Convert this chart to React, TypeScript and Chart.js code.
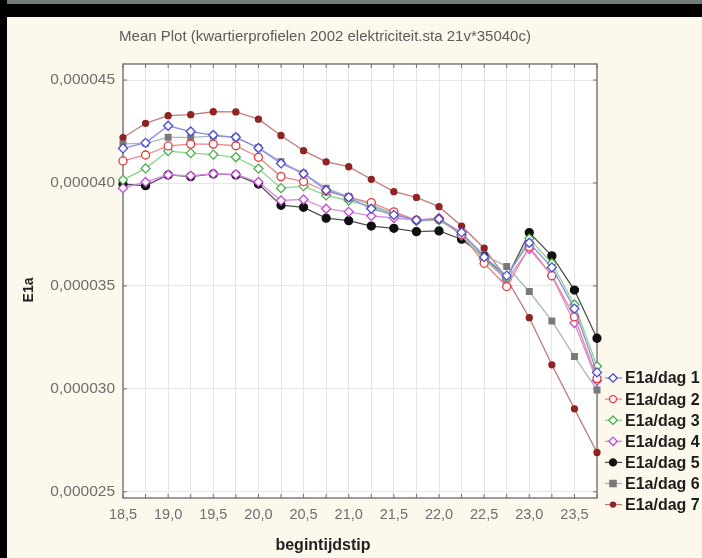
import React, { useEffect, useRef } from "react";
import { Chart, registerables } from "chart.js";

Chart.register(...registerables);

const X_VALUES = [18.5, 18.75, 19.0, 19.25, 19.5, 19.75, 20.0, 20.25, 20.5, 20.75, 21.0, 21.25, 21.5, 21.75, 22.0, 22.25, 22.5, 22.75, 23.0, 23.25, 23.5, 23.75];

// values in units of 1e-6
const DAG1 = [41.68, 41.95, 42.78, 42.5, 42.33, 42.22, 41.7, 40.95, 40.45, 39.65, 39.3, 38.75, 38.45, 38.2, 38.25, 37.6, 36.4, 35.5, 37.1, 35.9, 33.9, 30.8];
const DAG2 = [41.07, 41.36, 41.8, 41.89, 41.89, 41.81, 41.25, 40.31, 40.07, 39.6, 39.3, 39.05, 38.6, 38.2, 38.25, 37.5, 36.1, 34.97, 36.9, 35.5, 33.5, 30.5];
const DAG3 = [40.15, 40.71, 41.55, 41.45, 41.38, 41.25, 40.7, 39.75, 39.85, 39.4, 39.15, 38.85, 38.5, 38.15, 38.2, 37.5, 36.3, 35.4, 37.3, 36.1, 34.1, 31.1];
const DAG4 = [39.75, 40.05, 40.4, 40.35, 40.45, 40.42, 40.05, 39.15, 39.2, 38.75, 38.6, 38.4, 38.3, 38.2, 38.3, 37.45, 36.3, 35.3, 36.8, 35.5, 33.2, 30.4];
const DAG5 = [39.94, 39.87, 40.39, 40.31, 40.44, 40.39, 39.95, 38.92, 38.82, 38.29, 38.17, 37.91, 37.8, 37.64, 37.67, 37.27, 36.42, 35.37, 37.59, 36.46, 34.8, 32.46];
const DAG6 = [41.9, 41.93, 42.22, 42.22, 42.28, 42.22, 41.71, 41.03, 40.47, 39.74, 39.34, 38.93, 38.53, 38.2, 38.2, 37.56, 36.5, 35.94, 34.73, 33.3, 31.57, 29.95];
const DAG7 = [42.2, 42.9, 43.27, 43.32, 43.46, 43.45, 43.1, 42.31, 41.57, 41.03, 40.79, 40.18, 39.58, 39.3, 38.85, 37.91, 36.83, 35.35, 33.46, 31.17, 29.03, 26.91];

const SERIES_LABELS = ["E1a/dag 1", "E1a/dag 2", "E1a/dag 3", "E1a/dag 4", "E1a/dag 5", "E1a/dag 6", "E1a/dag 7"];
const SERIES = [DAG1, DAG2, DAG3, DAG4, DAG5, DAG6, DAG7];

const Y_TICKS = [25, 30, 35, 40, 45];
const UNIT = 1e-6;

const TITLE = "Mean Plot (kwartierprofielen 2002 elektriciteit.sta 21v*35040c)";
const X_TITLE = "begintijdstip";
const Y_TITLE = "E1a";

const STYLES = [
  { line: "#8c8ce6", marker: "#4a4ad6", shape: "diamond", filled: false, r: 4 },
  { line: "#e68a8a", marker: "#e03a3a", shape: "circle", filled: false, r: 4 },
  { line: "#8ad68a", marker: "#44b044", shape: "diamond", filled: false, r: 4 },
  { line: "#d68ae6", marker: "#c44ad6", shape: "diamond", filled: false, r: 4 },
  { line: "#505050", marker: "#111111", shape: "circle", filled: true, r: 4 },
  { line: "#a6b6c2", marker: "#7a7a7a", shape: "rect", filled: true, r: 4 },
  { line: "#c47a7a", marker: "#8e2424", shape: "circle", filled: true, r: 3 },
];

const FONT = "'Liberation Sans', Arial, sans-serif";

function drawShape(ctx: CanvasRenderingContext2D, shape: string, x: number, y: number, r: number, stroke: string, filled: boolean) {
  ctx.save();
  ctx.beginPath();
  if (shape === "diamond") {
    ctx.moveTo(x, y - r * 1.2);
    ctx.lineTo(x + r * 1.2, y);
    ctx.lineTo(x, y + r * 1.2);
    ctx.lineTo(x - r * 1.2, y);
    ctx.closePath();
  } else if (shape === "rect") {
    ctx.rect(x - r * 0.9, y - r * 0.9, r * 1.8, r * 1.8);
  } else {
    ctx.arc(x, y, r, 0, Math.PI * 2);
  }
  ctx.fillStyle = filled ? stroke : "#ffffff";
  ctx.fill();
  ctx.lineWidth = 1.3;
  ctx.strokeStyle = stroke;
  ctx.stroke();
  ctx.restore();
}

const framePlugin = {
  id: "framePlugin",
  beforeDraw(chart: any) {
    const { ctx, width, height, chartArea } = chart;
    ctx.save();
    ctx.fillStyle = "#fcf8ec";
    ctx.fillRect(0, 0, width, height);
    ctx.fillStyle = "#6f7c79";
    ctx.fillRect(0, 0, width, 4);
    ctx.fillStyle = "#000000";
    ctx.fillRect(0, 4, width, 13);
    ctx.fillRect(0, 0, 7, height);
    ctx.fillStyle = "#ffffff";
    ctx.fillRect(chartArea.left, chartArea.top, chartArea.right - chartArea.left, chartArea.bottom - chartArea.top);
    ctx.restore();
  },
  beforeDatasetsDraw(chart: any) {
    const { ctx, chartArea, scales } = chart;
    const { left, right, top, bottom } = chartArea;
    ctx.save();
    ctx.strokeStyle = "#7c7c7c";
    ctx.lineWidth = 1.5;
    ctx.strokeRect(left, top, right - left, bottom - top);
    ctx.lineWidth = 1;
    ctx.strokeStyle = "#707070";
    ctx.beginPath();
    for (const x of X_VALUES) {
      const px = scales.x.getPixelForValue(x);
      ctx.moveTo(px, bottom);
      ctx.lineTo(px, bottom - 4);
      ctx.moveTo(px, top);
      ctx.lineTo(px, top + 4);
    }
    for (const v of Y_TICKS) {
      const py = scales.y.getPixelForValue(v * UNIT);
      ctx.moveTo(left, py);
      ctx.lineTo(left + 4, py);
      ctx.moveTo(right, py);
      ctx.lineTo(right - 4, py);
    }
    ctx.stroke();
    ctx.restore();
  },
  afterDraw(chart: any) {
    const { ctx } = chart;
    ctx.save();
    ctx.textAlign = "center";
    ctx.textBaseline = "middle";
    ctx.fillStyle = "#5c5c5c";
    ctx.font = `15px ${FONT}`;
    ctx.fillText(TITLE, 325, 37);

    ctx.fillStyle = "#222222";
    ctx.font = `bold 16px ${FONT}`;
    ctx.fillText(X_TITLE, 323, 546);

    ctx.save();
    ctx.translate(29, 290);
    ctx.rotate(-Math.PI / 2);
    ctx.font = `bold 14px ${FONT}`;
    ctx.fillText(Y_TITLE, 0, 0);
    ctx.restore();

    // legend
    chart.data.datasets.forEach((ds: any, i: number) => {
      const st = STYLES[i];
      const y = 378 + i * 21.1;
      ctx.strokeStyle = st.line;
      ctx.lineWidth = 1.3;
      ctx.beginPath();
      ctx.moveTo(605, y);
      ctx.lineTo(622, y);
      ctx.stroke();
      drawShape(ctx, st.shape, 613, y, st.r - 0.5, st.marker, st.filled);
      ctx.fillStyle = "#1c1c1c";
      ctx.font = `bold 16px ${FONT}`;
      ctx.textAlign = "left";
      ctx.fillText(ds.label, 625, y + 1);
    });
    ctx.restore();
  },
};

function pointStyleFor(shape: string) {
  if (shape === "diamond") return "rectRot";
  if (shape === "rect") return "rect";
  return "circle";
}

export default function App() {
  const ref = useRef<HTMLCanvasElement | null>(null);

  useEffect(() => {
    if (!ref.current) return;
    const datasets = SERIES.map((vals, i) => {
      const st = STYLES[i];
      return {
        label: SERIES_LABELS[i],
        data: X_VALUES.map((x, j) => ({ x, y: vals[j] * UNIT })),
        borderColor: st.line,
        borderWidth: 1.3,
        pointStyle: pointStyleFor(st.shape),
        pointRadius: st.shape === "diamond" ? st.r + 0.5 : st.r,
        pointBorderColor: st.marker,
        pointBackgroundColor: st.filled ? st.marker : "#ffffff",
        pointBorderWidth: 1.3,
        tension: 0,
        fill: false,
        clip: 10,
      };
    });

    const chart = new Chart(ref.current, {
      type: "line",
      data: { datasets },
      plugins: [framePlugin],
      options: {
        animation: false,
        responsive: false,
        devicePixelRatio: 1,
        layout: { padding: { left: 0, right: 105, top: 64, bottom: 0 } },
        plugins: {
          legend: { display: false },
          title: { display: false },
          tooltip: { enabled: false },
        },
        scales: {
          x: {
            type: "linear",
            min: 18.5,
            max: 23.75,
            afterBuildTicks: (scale: any) => {
              scale.ticks = X_VALUES.map((v) => ({ value: v }));
            },
            afterFit: (scale: any) => {
              scale.height = 60;
            },
            grid: { color: "#e6e6e6", lineWidth: 1, drawTicks: false },
            border: { display: false },
            ticks: {
              autoSkip: false,
              maxRotation: 0,
              padding: 8,
              color: "#6e6e6e",
              font: { family: FONT, size: 14.5 },
              callback: (value: any) => {
                const v = Number(value);
                if (Math.abs(v * 2 - Math.round(v * 2)) < 1e-6 && v <= 23.5 + 1e-6) {
                  return v.toFixed(1).replace(".", ",");
                }
                return "";
              },
            },
          },
          y: {
            type: "linear",
            min: 24.7 * UNIT,
            max: 45.78 * UNIT,
            afterBuildTicks: (scale: any) => {
              scale.ticks = Y_TICKS.map((v) => ({ value: v * UNIT }));
            },
            afterFit: (scale: any) => {
              scale.width = 123;
            },
            grid: { color: "#e6e6e6", lineWidth: 1, drawTicks: false },
            border: { display: false },
            ticks: {
              padding: 8,
              color: "#6e6e6e",
              font: { family: FONT, size: 15.5 },
              callback: (value: any) => Number(value).toFixed(6).replace(".", ","),
            },
          },
        },
      },
    });
    return () => chart.destroy();
  }, []);

  return (
    <div style={{ position: "fixed", left: 0, top: 0, width: 702, height: 558 }}>
      <canvas ref={ref} width={702} height={558} style={{ display: "block", width: 702, height: 558 }} />
    </div>
  );
}
